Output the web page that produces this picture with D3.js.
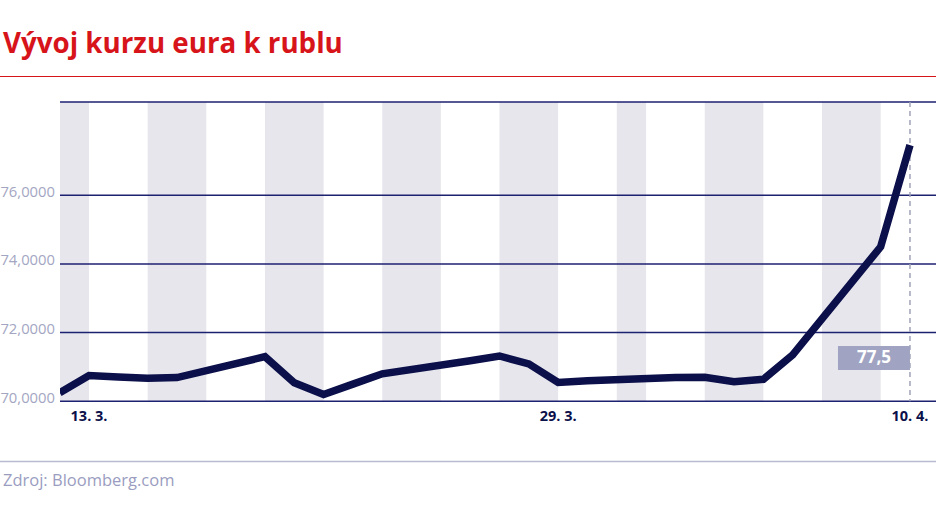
<!DOCTYPE html>
<html><head><meta charset="utf-8">
<script src="https://cdn.jsdelivr.net/npm/d3@7"></script>
<style>body{margin:0;background:#fff}svg{display:block}</style>
</head><body>
<svg id="c" width="936" height="526"></svg>
<script>
const dates = ["2018-03-12","2018-03-13","2018-03-14","2018-03-15","2018-03-16","2018-03-19","2018-03-20","2018-03-21","2018-03-22","2018-03-23","2018-03-26","2018-03-27","2018-03-28","2018-03-29","2018-03-30","2018-04-02","2018-04-03","2018-04-04","2018-04-05","2018-04-06","2018-04-09","2018-04-10"];
const values = [70.25,70.75,70.71,70.67,70.69,71.30,70.54,70.20,70.50,70.80,71.18,71.32,71.09,70.55,70.60,70.69,70.70,70.57,70.64,71.35,74.50,77.46];
const bandStarts = ["2018-03-11","2018-03-15","2018-03-19","2018-03-23","2018-03-27","2018-03-31","2018-04-03","2018-04-07"];
const bandEnds   = ["2018-03-13","2018-03-17","2018-03-21","2018-03-25","2018-03-29","2018-04-01","2018-04-05","2018-04-09"];
const yTicks = [70,72,74,76];
const xTickDates = ["2018-03-13","2018-03-29","2018-04-10"];
const xTickLabels = ["13. 3.","29. 3.","10. 4."];
const lastLabel = "77,5";
const title = "Vývoj kurzu eura k rublu";
const source = "Zdroj: Bloomberg.com";

const P = d3.utcParse("%Y-%m-%d");
const svg = d3.select("#c");
const W = 936;
const x = d3.scaleUtc().domain([P("2018-03-12"), P("2018-04-11")]).range([59.7, 59.7 + 30*29.32]);
const y = d3.scaleLinear().domain([70, 78.716]).range([401.3, 102]);
const left = 60, right = W;

function fit(sel, target){
  const n = sel.node(); const w = n.getComputedTextLength();
  const fs = parseFloat(sel.attr("font-size"));
  sel.attr("font-size", fs*target/w);
}

// title
const t = svg.append("text").attr("x",3).attr("y",53).text(title)
  .attr("font-family","'Open Sans'").attr("font-weight",700).attr("font-size",24.5).attr("fill","#d7141a");
fit(t, 340);
svg.append("line").attr("x1",0).attr("x2",W).attr("y1",76.5).attr("y2",76.5).attr("stroke","#d7141a").attr("stroke-width",1);

// bands
const g = svg.append("g");
g.append("defs").append("clipPath").attr("id","cp").append("rect")
  .attr("x",left).attr("y",y.range()[1]).attr("width",right-left).attr("height",y.range()[0]-y.range()[1]);
g.append("g").attr("clip-path","url(#cp)").selectAll("rect").data(bandStarts.map((s,i)=>[P(s),P(bandEnds[i])]))
  .join("rect").attr("x",d=>x(d[0])).attr("width",d=>x(d[1])-x(d[0]))
  .attr("y",y.range()[1]).attr("height",y.range()[0]-y.range()[1]).attr("fill","#e6e6ec");

// gridlines
const gridVals = yTicks.concat([y.domain()[1]]);
g.selectAll("line.grid").data(gridVals).join("line").attr("class","grid")
  .attr("x1",left).attr("x2",right).attr("y1",d=>y(d)).attr("y2",d=>y(d))
  .attr("stroke","#1c2170").attr("stroke-width",1.5);

// y labels
g.selectAll("text.yl").data(yTicks).join("text").attr("class","yl")
  .attr("x",55).attr("y",d=>y(d)-2.5).attr("text-anchor","end").attr("dominant-baseline","middle")
  .attr("font-family","'Open Sans'").attr("font-size",14.8).attr("fill","#a3a6c2")
  .text(d=>d3.format(".4f")(d).replace(".",","));

// dashed line at last date
const lastX = x(P(dates[dates.length-1]));
g.append("line").attr("x1",lastX).attr("x2",lastX).attr("y1",y.range()[1]).attr("y2",y.range()[0])
  .attr("stroke","#a0a3b8").attr("stroke-width",1.5).attr("stroke-dasharray","5,4");

// label box
g.append("rect").attr("x",lastX-72).attr("y",346).attr("width",72).attr("height",24).attr("fill","#a0a4c2");
g.append("text").attr("x",lastX-36).attr("y",358.5).attr("text-anchor","middle").attr("dominant-baseline","middle")
  .attr("font-family","'Open Sans'").attr("font-weight",700).attr("font-size",17).attr("fill","#fff").text(lastLabel);

// line
const data = dates.map((d,i)=>({d:P(d),v:values[i]}));
g.append("path").datum(data).attr("fill","none").attr("stroke","#0b0f4a").attr("stroke-width",7.5)
  .attr("stroke-linejoin","miter").attr("clip-path","url(#cp)")
  .attr("d",d3.line().x(d=>x(d.d)).y(d=>y(d.v)));

// x labels
g.selectAll("text.xl").data(xTickDates).join("text").attr("class","xl")
  .attr("x",d=>x(P(d))).attr("y",417).attr("text-anchor","middle").attr("dominant-baseline","middle")
  .attr("font-family","'Open Sans'").attr("font-weight",700).attr("font-size",14.5).attr("fill","#0b0f4a")
  .text((d,i)=>xTickLabels[i]);

// footer
svg.append("line").attr("x1",0).attr("x2",W).attr("y1",461.5).attr("y2",461.5).attr("stroke","#b9bbd2").attr("stroke-width",1.5);
svg.append("text").attr("x",3).attr("y",482).attr("dominant-baseline","middle")
  .attr("font-family","'Open Sans'").attr("font-size",16.5).attr("fill","#9a9dbf").text(source);
</script>
</body></html>
